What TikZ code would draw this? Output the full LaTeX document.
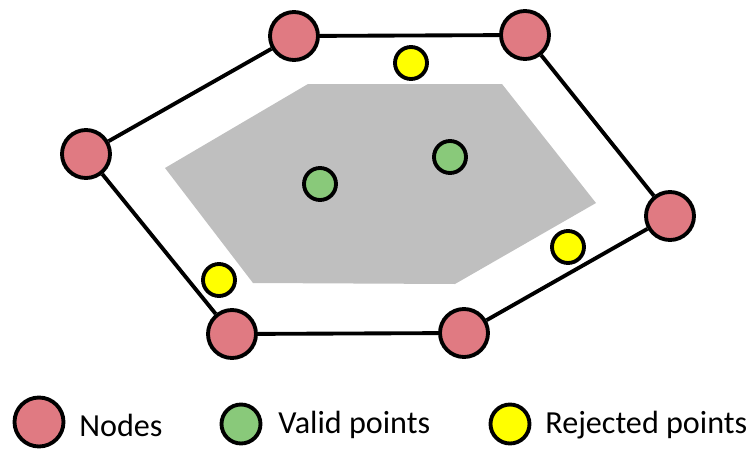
\documentclass[tikz,border=0pt]{standalone}
\usepackage{fontspec}
\setmainfont{Carlito}
\definecolor{noderose}{RGB}{224,122,130}
\definecolor{validgreen}{RGB}{137,201,122}
\definecolor{rejectyellow}{RGB}{255,255,0}
\definecolor{regiongray}{RGB}{191,191,191}
\begin{document}
\begin{tikzpicture}[
    x=0.02cm, y=-0.02cm,
    hnode/.style={circle, draw=black, fill=noderose, line width=2.2pt, minimum size=0.96cm, inner sep=0pt},
    vpoint/.style={circle, draw=black, fill=validgreen, line width=2.2pt, minimum size=0.64cm, inner sep=0pt},
    rpoint/.style={circle, draw=black, fill=rejectyellow, line width=2.2pt, minimum size=0.64cm, inner sep=0pt},
    hull/.style={draw=black, line width=2.2pt},
    ltext/.style={anchor=west, inner sep=0pt, font=\fontsize{18.3}{22}\selectfont},
]
\useasboundingbox (0,0) rectangle (755,450);

% Valid region
\fill[regiongray] (308,84) -- (502,84) -- (596,203) -- (455,284) -- (253,283) -- (165,168) -- cycle;

\node[hnode] (n1) at (294,36) {};
\node[hnode] (n2) at (525,35) {};
\node[hnode] (n3) at (670,216) {};
\node[hnode] (n4) at (464,333) {};
\node[hnode] (n5) at (232,334) {};
\node[hnode] (n6) at (86,154) {};

\draw[hull] (n1) -- (n2);
\draw[hull] (n2) -- (n3);
\draw[hull] (n3) -- (n4);
\draw[hull] (n4) -- (n5);
\draw[hull] (n5) -- (n6);
\draw[hull] (n6) -- (n1);

\node[vpoint] (v1) at (320,184) {};
\node[vpoint] (v2) at (450,157) {};

\node[rpoint] (r1) at (411,63) {};
\node[rpoint] (r2) at (568,247) {};
\node[rpoint] (r3) at (219,280) {};

% Legend
\node[hnode, minimum size=0.98cm] (lnode) at (39,422) {};
\node[ltext] (tnode) at (79,425) {Nodes};
\node[vpoint, minimum size=0.78cm] (lvalid) at (241,424) {};
\node[ltext] (tvalid) at (278,425) {Valid points};
\node[rpoint, minimum size=0.78cm] (lreject) at (510,424) {};
\node[ltext] (treject) at (545,425) {Rejected points};
\end{tikzpicture}
\end{document}
